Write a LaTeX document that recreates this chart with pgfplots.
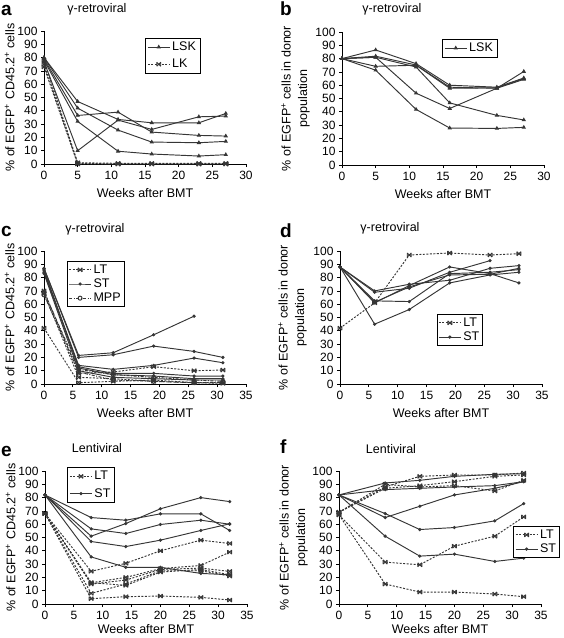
\documentclass[border=0pt]{standalone}
\usepackage{fontspec}
\setmainfont{Liberation Sans}
\usepackage{pgfplots}
\pgfplotsset{compat=1.18}
\definecolor{linec}{HTML}{363636}
\newcommand\tkfont{\fontsize{12}{13}\selectfont}
\newcommand\lbfont{\fontsize{12.5}{16.5}\selectfont}

\pgfdeclareplotmark{xbar}{%
  \pgfpathmoveto{\pgfqpoint{-\pgfplotmarksize}{-\pgfplotmarksize}}%
  \pgfpathlineto{\pgfqpoint{\pgfplotmarksize}{\pgfplotmarksize}}%
  \pgfpathmoveto{\pgfqpoint{-\pgfplotmarksize}{\pgfplotmarksize}}%
  \pgfpathlineto{\pgfqpoint{\pgfplotmarksize}{-\pgfplotmarksize}}%
  \pgfpathmoveto{\pgfqpoint{-\pgfplotmarksize}{-\pgfplotmarksize}}%
  \pgfpathlineto{\pgfqpoint{-\pgfplotmarksize}{\pgfplotmarksize}}%
  \pgfpathmoveto{\pgfqpoint{\pgfplotmarksize}{-\pgfplotmarksize}}%
  \pgfpathlineto{\pgfqpoint{\pgfplotmarksize}{\pgfplotmarksize}}%
  \pgfusepathqstroke}

\pgfplotsset{
  panel/.style={scale only axis, width=202pt, height=133pt, anchor=south west,
    axis x line*=bottom, axis y line*=left, ymin=0, ymax=100, ytick={0,10,...,100}, xmin=0,
    tick align=outside, major tick length=3pt,
    tick style={black, line width=0.8pt},
    axis line style={black, line width=0.9pt},
    xticklabel style={font=\tkfont, yshift=-1pt},
    yticklabel style={font=\tkfont},
    /pgf/number format/assume math mode=true,
    xlabel={\lbfont Weeks after BMT},
    every axis x label/.style={at={(axis description cs:0.5,-0.215)},anchor=center,font=\lbfont,inner sep=0pt},
    every axis y label/.style={at={(axis description cs:-0.17,0.5)},rotate=90,anchor=center,align=center,font=\lbfont},
    legend style={draw=black, line width=0.6pt, font=\lbfont, inner sep=1pt, row sep=-1pt, cells={anchor=west}, anchor=north west},
    legend image code/.code={\draw[mark repeat=2,mark phase=2,##1] plot coordinates {(0pt,0pt) (11pt,0pt) (22pt,0pt)};},
    clip=false,
  },
  lowlabel/.style={every axis x label/.style={at={(axis description cs:0.5,-0.19)},anchor=center,font=\lbfont,inner sep=0pt}},
  st/.style={linec, line width=0.95pt, solid, mark=*, mark size=1.1pt},
  lsk/.style={linec, line width=0.95pt, solid, mark=triangle*, mark size=1.6pt},
  lt/.style={linec, line width=0.95pt, dash pattern=on 2pt off 1.5pt, mark=xbar, mark size=2pt, mark options={solid}},
  mpp/.style={linec, line width=0.95pt, dash pattern=on 3pt off 1.5pt on 1pt off 1.5pt, mark=o, mark size=2pt, mark options={solid}},
}

\begin{document}
\begin{tikzpicture}
\useasboundingbox (0pt,0pt) rectangle (563pt,-638pt);

% titles and letters
\node[font=\fontsize{12.5}{14}\selectfont] at (97pt,-9pt) {γ-retroviral};
\node[font=\fontsize{12.5}{14}\selectfont] at (392pt,-9pt) {γ-retroviral};
\node[font=\fontsize{12.5}{14}\selectfont] at (95pt,-229pt) {γ-retroviral};
\node[font=\fontsize{12.5}{14}\selectfont] at (390pt,-228pt) {γ-retroviral};
\node[font=\fontsize{12.5}{14}\selectfont] at (97pt,-448pt) {Lentiviral};
\node[font=\fontsize{12.5}{14}\selectfont] at (391pt,-449pt) {Lentiviral};
\node[font=\fontsize{19}{20}\selectfont\bfseries, anchor=base west, inner sep=0pt] at (1pt,-15pt) {a};
\node[font=\fontsize{19}{20}\selectfont\bfseries, anchor=base west, inner sep=0pt] at (280pt,-15pt) {b};
\node[font=\fontsize{19}{20}\selectfont\bfseries, anchor=base west, inner sep=0pt] at (1pt,-236pt) {c};
\node[font=\fontsize{19}{20}\selectfont\bfseries, anchor=base west, inner sep=0pt] at (280pt,-237pt) {d};
\node[font=\fontsize{19}{20}\selectfont\bfseries, anchor=base west, inner sep=0pt] at (1pt,-456pt) {e};
\node[font=\fontsize{19}{20}\selectfont\bfseries, anchor=base west, inner sep=0pt] at (280pt,-453pt) {f};

% ---------- a ----------
\begin{axis}[panel, at={(44pt,-164pt)}, xmax=30, xtick={0,5,...,30},
  ylabel={\lbfont \% of EGFP\textsuperscript{+} CD45.2\textsuperscript{+} cells},
  legend style={at={(axis description cs:0.5,0.95)}, inner sep=2pt, row sep=3pt}]
\addplot[lsk] coordinates {(0,80) (5,47) (11,33.5) (16,31) (23,31) (27,38)};
\addlegendentry{\lbfont LSK}
\addplot[lt] coordinates {(0,78) (5,1) (11,0.5) (16,0.5) (23,0.5) (27,0.5)};
\addlegendentry{\lbfont LK}
\addplot[lsk, forget plot] coordinates {(0,80) (5,42) (11,25.5) (16,16.5) (23,16) (27,17)};
\addplot[lsk, forget plot] coordinates {(0,79) (5,36.5) (11,39) (16,24) (23,21.5) (27,21)};
\addplot[lsk, forget plot] coordinates {(0,78) (5,32) (11,9.6) (16,7.5) (23,6) (27,7)};
\addplot[lsk, forget plot] coordinates {(0,77) (5,10) (11,33) (16,26) (23,35.5) (27,36)};
\addplot[lt, forget plot] coordinates {(0,75) (5,0.5) (11,0) (16,0) (23,0) (27,0)};
\addplot[lt, forget plot] coordinates {(0,73) (5,0) (11,0) (16,0) (23,0) (27,0)};
\end{axis}

% ---------- b ----------
\begin{axis}[panel, at={(342pt,-165pt)}, xmax=30, xtick={0,5,...,30},
  ylabel={\lbfont \% of EGFP\textsuperscript{+} cells in donor\\\lbfont population},
  every axis y label/.style={at={(axis description cs:-0.23,0.5)},rotate=90,anchor=center,align=center,font=\lbfont},
  legend style={at={(axis description cs:0.495,0.95)}, inner sep=2pt}]
\addplot[lsk] coordinates {(0,80) (5,86.5) (11,76.2) (16,60) (23,58.5) (27,65.4)};
\addlegendentry{\lbfont LSK}
\addplot[lsk, forget plot] coordinates {(0,80) (5,81.8) (11,75.2) (16,58.5) (23,57.7) (27,64.4)};
\addplot[lsk, forget plot] coordinates {(0,80) (5,81) (11,73.7) (16,46.7) (23,37.3) (27,33.9)};
\addplot[lsk, forget plot] coordinates {(0,80) (5,74.2) (11,75) (16,57.7) (23,58) (27,65)};
\addplot[lsk, forget plot] coordinates {(0,80) (5,81) (11,54) (16,42.5) (23,57.7) (27,70.3)};
\addplot[lsk, forget plot] coordinates {(0,80) (5,71.3) (11,41.8) (16,27.8) (23,27.5) (27,28.3)};
\end{axis}

% ---------- c ----------
\begin{axis}[panel, at={(44pt,-384pt)}, xmax=35, xtick={0,5,...,35},
  ylabel={\lbfont \% of EGFP\textsuperscript{+} CD45.2\textsuperscript{+} cells},
  legend style={at={(axis description cs:0.113,0.925)}, inner sep=1.5pt, row sep=0pt}]
\addplot[lt] coordinates {(0,70) (6,8) (12,9) (19,13) (26,10) (31,10.5)};
\addlegendentry{\lbfont LT}
\addplot[st] coordinates {(0,87) (6,21.5) (12,23.5) (19,37) (26,51)};
\addlegendentry{\lbfont ST}
\addplot[mpp] coordinates {(0,69) (6,11) (12,7) (19,5) (26,3) (31,2)};
\addlegendentry{\lbfont MPP}
\addplot[st, forget plot] coordinates {(0,87) (6,20) (12,22) (19,28.5) (26,24.5) (31,20)};
\addplot[st, forget plot] coordinates {(0,85) (6,14) (12,11) (19,14) (26,19.5) (31,16)};
\addplot[st, forget plot] coordinates {(0,84) (6,13) (12,8) (19,8) (26,6) (31,6)};
\addplot[st, forget plot] coordinates {(0,86) (6,12) (12,7) (19,6) (26,4) (31,4)};
\addplot[st, forget plot] coordinates {(0,83) (6,10) (12,5) (19,4) (26,3) (31,3)};
\addplot[lt, forget plot] coordinates {(0,42) (6,1) (12,2) (19,3) (26,1) (31,1)};
\addplot[lt, forget plot] coordinates {(0,68) (6,5) (12,4) (19,2) (26,1) (31,0.5)};
\addplot[mpp, forget plot] coordinates {(0,67) (6,9) (12,3) (19,2) (26,1) (31,1)};
\end{axis}

% ---------- d ----------
\begin{axis}[panel, at={(340pt,-384pt)}, xmax=35, xtick={0,5,...,35},
  ylabel={\lbfont \% of EGFP\textsuperscript{+} cells in donor\\\lbfont population},
  every axis y label/.style={at={(axis description cs:-0.235,0.5)},rotate=90,anchor=center,align=center,font=\lbfont},
  legend style={at={(axis description cs:0.478,0.526)}, inner sep=1.5pt, row sep=0pt}]
\addplot[lt] coordinates {(0,42) (6,61) (12,97) (19,98.5) (26,97) (31,98)};
\addlegendentry{\lbfont LT}
\addplot[st] coordinates {(0,88) (6,70) (12,75) (19,78) (26,87) (31,89)};
\addlegendentry{\lbfont ST}
\addplot[st, forget plot] coordinates {(0,88) (6,69) (12,72) (19,84) (26,92.75)};
\addplot[st, forget plot] coordinates {(0,88) (6,62.5) (12,62) (19,83) (26,84) (31,86)};
\addplot[st, forget plot] coordinates {(0,88) (6,61) (12,74) (19,88) (26,83) (31,76)};
\addplot[st, forget plot] coordinates {(0,88) (6,45) (12,56) (19,76) (26,82) (31,84)};
\addplot[st, forget plot] coordinates {(0,88) (6,61.5) (12,73) (19,82) (26,82.5) (31,87)};
\end{axis}

% ---------- e ----------
\begin{axis}[panel, lowlabel, at={(45pt,-604pt)}, xmax=35, xtick={0,5,...,35},
  ylabel={\lbfont \% of EGFP\textsuperscript{+} CD45.2\textsuperscript{+} cells},
  legend style={at={(axis description cs:0.11,1.03)}, inner sep=2pt, row sep=3pt}]
\addplot[lt] coordinates {(0,68) (8,24.6) (14,30.6) (20,40) (27,48) (32,45.5)};
\addlegendentry{\lbfont LT}
\addplot[st] coordinates {(0,82) (8,51) (14,60.5) (20,71.6) (27,80) (32,77)};
\addlegendentry{\lbfont ST}
\addplot[st, forget plot] coordinates {(0,82) (8,65) (14,63) (20,67.8) (27,67.8) (32,55.3)};
\addplot[st, forget plot] coordinates {(0,82) (8,56.5) (14,53) (20,59.8) (27,63) (32,60)};
\addplot[st, forget plot] coordinates {(0,82) (8,47) (14,43.2) (20,48) (27,55.3) (32,60.3)};
\addplot[st, forget plot] coordinates {(0,82) (8,35.4) (14,27.6) (20,27.6) (27,23) (32,22)};
\addplot[lt, forget plot] coordinates {(0,68) (8,16) (14,20) (20,26.6) (27,29) (32,39)};
\addplot[lt, forget plot] coordinates {(0,68) (8,15) (14,18) (20,26) (27,27) (32,24.5)};
\addplot[lt, forget plot] coordinates {(0,68) (8,8) (14,15) (20,25) (27,25) (32,21)};
\addplot[lt, forget plot] coordinates {(0,68) (8,16) (14,14) (20,24) (27,26) (32,22)};
\addplot[lt, forget plot] coordinates {(0,68) (8,4) (14,5.5) (20,6) (27,5) (32,3)};
\end{axis}

% ---------- f ----------
\begin{axis}[panel, lowlabel, at={(339pt,-604pt)}, xmax=35, xtick={0,5,...,35},
  ylabel={\lbfont \% of EGFP\textsuperscript{+} cells in donor\\\lbfont population},
  every axis y label/.style={at={(axis description cs:-0.225,0.5)},rotate=90,anchor=center,align=center,font=\lbfont},
  legend style={at={(axis description cs:0.863,0.586)}, inner sep=1.5pt, row sep=0pt}]
\addplot[lt] coordinates {(0,69) (8,88) (14,96) (20,97) (27,97) (32,98.5)};
\addlegendentry{\lbfont LT}
\addplot[st] coordinates {(0,82) (8,91) (14,93) (20,96) (27,97.5) (32,98)};
\addlegendentry{\lbfont ST}
\addplot[st, forget plot] coordinates {(0,82) (8,86) (14,87) (20,88) (27,89) (32,92)};
\addplot[st, forget plot] coordinates {(0,82) (8,65) (14,73.5) (20,82) (27,87) (32,92)};
\addplot[st, forget plot] coordinates {(0,82) (8,68) (14,56) (20,57.5) (27,62.5) (32,75.5)};
\addplot[st, forget plot] coordinates {(0,82) (8,51) (14,36) (20,37.5) (27,32) (32,34.5)};
\addplot[lt, forget plot] coordinates {(0,69) (8,87) (14,89) (20,92) (27,96) (32,97)};
\addplot[lt, forget plot] coordinates {(0,69) (8,90) (14,88) (20,89) (27,85) (32,93)};
\addplot[lt, forget plot] coordinates {(0,67) (8,31.5) (14,29.5) (20,43.5) (27,51) (32,65.5)};
\addplot[lt, forget plot] coordinates {(0,67) (8,15) (14,9) (20,9) (27,7.5) (32,5.5)};
\end{axis}
\end{tikzpicture}
\end{document}
